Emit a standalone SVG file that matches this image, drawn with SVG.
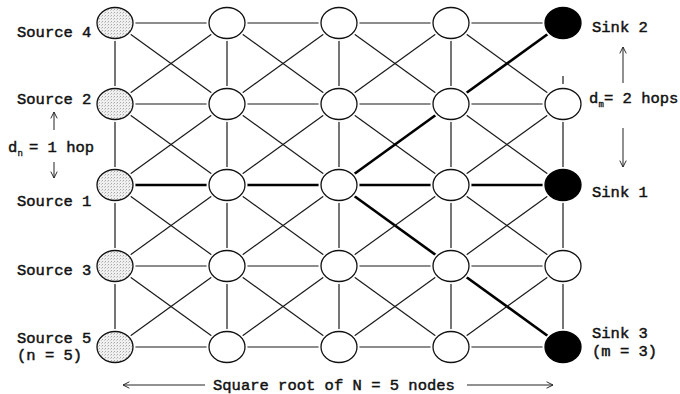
<svg xmlns="http://www.w3.org/2000/svg" width="680" height="394" viewBox="0 0 680 394">
<style>
text{font-family:"Liberation Mono","Courier New",monospace;font-size:15.5px;fill:#111;stroke:#111;stroke-width:0.45}
.sub{font-size:9px;stroke-width:0.3}
.e line{stroke:#1a1a1a;stroke-width:1.2}
.e .t{stroke:#000;stroke-width:2.6}
.halo{fill:#fff;stroke:#fff;stroke-width:5}
.n{fill:#fff;stroke:#111;stroke-width:1.3}
.src{fill:url(#dots);stroke:#111;stroke-width:1.3}
.snk{fill:#000;stroke:#000;stroke-width:1.3}
.ar{stroke:#222;stroke-width:1;fill:none;marker-end:url(#ah)}
</style>
<defs>
<pattern id="dots" width="3" height="3" patternUnits="userSpaceOnUse">
<rect width="3" height="3" fill="#f0f0f0"/>
<rect x="0" y="0" width="1" height="1" fill="#a8a8a8"/>
<rect x="2" y="1" width="1" height="1" fill="#cccccc"/>
</pattern>
<marker id="ah" viewBox="0 0 10 10" refX="9" refY="5" markerWidth="8" markerHeight="8" markerUnits="userSpaceOnUse" orient="auto">
<path d="M1,1 L9,5 L1,9" fill="none" stroke="#222" stroke-width="1.2"/>
</marker>
</defs>
<g id="connectors" class="e">
<line x1="115" y1="23" x2="563" y2="23"/>
<line x1="115" y1="104" x2="563" y2="104"/>
<line class="t" x1="115" y1="185" x2="563" y2="185"/>
<line x1="115" y1="266" x2="563" y2="266"/>
<line x1="115" y1="347" x2="563" y2="347"/>
<line x1="115" y1="23" x2="115" y2="347"/>
<line x1="227" y1="23" x2="227" y2="347"/>
<line x1="339" y1="23" x2="339" y2="347"/>
<line x1="451" y1="23" x2="451" y2="347"/>
<line x1="563" y1="76" x2="563" y2="84"/>
<line x1="563" y1="104" x2="563" y2="347"/>
<line x1="115" y1="23" x2="227" y2="104"/><line x1="227" y1="23" x2="115" y2="104"/>
<line x1="227" y1="23" x2="339" y2="104"/><line x1="339" y1="23" x2="227" y2="104"/>
<line x1="339" y1="23" x2="451" y2="104"/><line x1="451" y1="23" x2="339" y2="104"/>
<line x1="451" y1="23" x2="563" y2="104"/><line class="t" x1="563" y1="23" x2="451" y2="104"/>
<line x1="115" y1="104" x2="227" y2="185"/><line x1="227" y1="104" x2="115" y2="185"/>
<line x1="227" y1="104" x2="339" y2="185"/><line x1="339" y1="104" x2="227" y2="185"/>
<line x1="339" y1="104" x2="451" y2="185"/><line class="t" x1="451" y1="104" x2="339" y2="185"/>
<line x1="451" y1="104" x2="563" y2="185"/><line x1="563" y1="104" x2="451" y2="185"/>
<line x1="115" y1="185" x2="227" y2="266"/><line x1="227" y1="185" x2="115" y2="266"/>
<line x1="227" y1="185" x2="339" y2="266"/><line x1="339" y1="185" x2="227" y2="266"/>
<line class="t" x1="339" y1="185" x2="451" y2="266"/><line x1="451" y1="185" x2="339" y2="266"/>
<line x1="451" y1="185" x2="563" y2="266"/><line x1="563" y1="185" x2="451" y2="266"/>
<line x1="115" y1="266" x2="227" y2="347"/><line x1="227" y1="266" x2="115" y2="347"/>
<line x1="227" y1="266" x2="339" y2="347"/><line x1="339" y1="266" x2="227" y2="347"/>
<line x1="339" y1="266" x2="451" y2="347"/><line x1="451" y1="266" x2="339" y2="347"/>
<line class="t" x1="451" y1="266" x2="563" y2="347"/><line x1="563" y1="266" x2="451" y2="347"/>
</g>
<g id="src4"><ellipse class="halo" cx="115" cy="23" rx="18" ry="15.5"/><ellipse class="src" cx="115" cy="23" rx="18" ry="15.5"/><text x="17" y="37">Source 4</text></g>
<g id="src2"><ellipse class="halo" cx="115" cy="104" rx="18" ry="15.5"/><ellipse class="src" cx="115" cy="104" rx="18" ry="15.5"/><text x="17" y="104">Source 2</text></g>
<g id="src1"><ellipse class="halo" cx="115" cy="185" rx="18" ry="15.5"/><ellipse class="src" cx="115" cy="185" rx="18" ry="15.5"/><text x="17" y="206">Source 1</text></g>
<g id="src3"><ellipse class="halo" cx="115" cy="266" rx="18" ry="15.5"/><ellipse class="src" cx="115" cy="266" rx="18" ry="15.5"/><text x="17" y="275">Source 3</text></g>
<g id="src5"><ellipse class="halo" cx="115" cy="347" rx="18" ry="15.5"/><ellipse class="src" cx="115" cy="347" rx="18" ry="15.5"/><text x="17" y="343">Source 5</text><text x="17" y="360">(n = 5)</text></g>
<g id="n21"><ellipse class="halo" cx="227" cy="23" rx="18" ry="15.5"/><ellipse class="n" cx="227" cy="23" rx="18" ry="15.5"/></g>
<g id="n31"><ellipse class="halo" cx="339" cy="23" rx="18" ry="15.5"/><ellipse class="n" cx="339" cy="23" rx="18" ry="15.5"/></g>
<g id="n41"><ellipse class="halo" cx="451" cy="23" rx="18" ry="15.5"/><ellipse class="n" cx="451" cy="23" rx="18" ry="15.5"/></g>
<g id="n22"><ellipse class="halo" cx="227" cy="104" rx="18" ry="15.5"/><ellipse class="n" cx="227" cy="104" rx="18" ry="15.5"/></g>
<g id="n32"><ellipse class="halo" cx="339" cy="104" rx="18" ry="15.5"/><ellipse class="n" cx="339" cy="104" rx="18" ry="15.5"/></g>
<g id="n42"><ellipse class="halo" cx="451" cy="104" rx="18" ry="15.5"/><ellipse class="n" cx="451" cy="104" rx="18" ry="15.5"/></g>
<g id="n52"><ellipse class="halo" cx="563" cy="104" rx="18" ry="15.5"/><ellipse class="n" cx="563" cy="104" rx="18" ry="15.5"/></g>
<g id="n23"><ellipse class="halo" cx="227" cy="185" rx="18" ry="15.5"/><ellipse class="n" cx="227" cy="185" rx="18" ry="15.5"/></g>
<g id="n33"><ellipse class="halo" cx="339" cy="185" rx="18" ry="15.5"/><ellipse class="n" cx="339" cy="185" rx="18" ry="15.5"/></g>
<g id="n43"><ellipse class="halo" cx="451" cy="185" rx="18" ry="15.5"/><ellipse class="n" cx="451" cy="185" rx="18" ry="15.5"/></g>
<g id="n24"><ellipse class="halo" cx="227" cy="266" rx="18" ry="15.5"/><ellipse class="n" cx="227" cy="266" rx="18" ry="15.5"/></g>
<g id="n34"><ellipse class="halo" cx="339" cy="266" rx="18" ry="15.5"/><ellipse class="n" cx="339" cy="266" rx="18" ry="15.5"/></g>
<g id="n44"><ellipse class="halo" cx="451" cy="266" rx="18" ry="15.5"/><ellipse class="n" cx="451" cy="266" rx="18" ry="15.5"/></g>
<g id="n54"><ellipse class="halo" cx="563" cy="266" rx="18" ry="15.5"/><ellipse class="n" cx="563" cy="266" rx="18" ry="15.5"/></g>
<g id="n25"><ellipse class="halo" cx="227" cy="347" rx="18" ry="15.5"/><ellipse class="n" cx="227" cy="347" rx="18" ry="15.5"/></g>
<g id="n35"><ellipse class="halo" cx="339" cy="347" rx="18" ry="15.5"/><ellipse class="n" cx="339" cy="347" rx="18" ry="15.5"/></g>
<g id="n45"><ellipse class="halo" cx="451" cy="347" rx="18" ry="15.5"/><ellipse class="n" cx="451" cy="347" rx="18" ry="15.5"/></g>
<g id="sink2"><ellipse class="halo" cx="563" cy="23" rx="18" ry="15.5"/><ellipse class="snk" cx="563" cy="23" rx="18" ry="15.5"/><text x="592" y="32">Sink 2</text></g>
<g id="sink1"><ellipse class="halo" cx="563" cy="185" rx="18" ry="15.5"/><ellipse class="snk" cx="563" cy="185" rx="18" ry="15.5"/><text x="592" y="197">Sink 1</text></g>
<g id="sink3"><ellipse class="halo" cx="563" cy="347" rx="18" ry="15.5"/><ellipse class="snk" cx="563" cy="347" rx="18" ry="15.5"/><text x="592" y="338">Sink 3</text><text x="592" y="356">(m = 3)</text></g>
<g id="dn">
<text x="8" y="152">d<tspan class="sub" x="17.5" dy="4">n</tspan><tspan x="29" dy="-4">= 1 hop</tspan></text>
<line class="ar" x1="54" y1="130" x2="54" y2="112"/>
<line class="ar" x1="54" y1="162" x2="54" y2="178"/>
</g>
<g id="dm">
<text x="589" y="103">d<tspan class="sub" x="598.5" dy="4">m</tspan><tspan x="604" dy="-4">= 2 hops</tspan></text>
<line class="ar" x1="623" y1="83" x2="623" y2="47"/>
<line class="ar" x1="623" y1="128" x2="623" y2="167"/>
</g>
<g id="bottom">
<text x="213" y="390">Square root of N = 5 nodes</text>
<line class="ar" x1="205" y1="385" x2="123" y2="385"/>
<line class="ar" x1="467" y1="385" x2="553" y2="385"/>
</g>
</svg>
